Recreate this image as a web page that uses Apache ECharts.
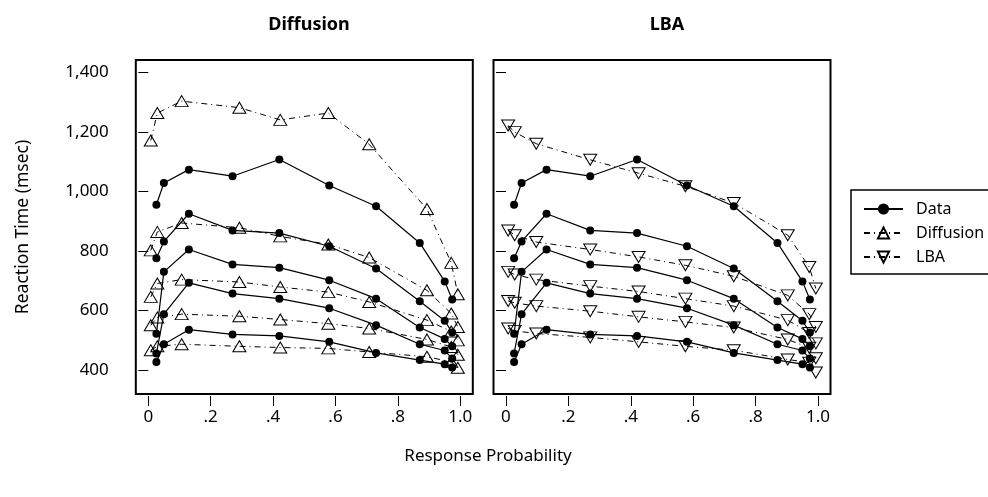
<!DOCTYPE html>
<html>
<head>
<meta charset="utf-8">
<script src="https://cdn.jsdelivr.net/npm/echarts@6/dist/echarts.min.js"></script>
<style>
  html, body { margin: 0; padding: 0; background: #fff; }
  #chart { width: 988px; height: 497px; }
</style>
</head>
<body>
<div id="chart"></div>
<script>
// response probabilities (x) for the observed data and each model
const probData = [0.026, 0.05, 0.13, 0.27, 0.42, 0.58, 0.73, 0.87, 0.95, 0.974];
const probDiff = [0.008, 0.029, 0.107, 0.292, 0.423, 0.577, 0.708, 0.893, 0.971, 0.992];
const probLba = [0.007, 0.028, 0.097, 0.27, 0.425, 0.575, 0.73, 0.903, 0.972, 0.993];

// RT quantiles (.1, .3, .5, .7, .9), msec
const dataQ1 = [427, 487, 536, 520, 515, 495, 458, 434, 420, 409];
const dataQ2 = [456, 588, 693, 657, 640, 608, 551, 487, 466, 439];
const dataQ3 = [522, 730, 805, 755, 744, 702, 640, 543, 505, 480];
const dataQ4 = [776, 832, 925, 869, 860, 816, 741, 631, 566, 526];
const dataQ5 = [955, 1028, 1073, 1051, 1107, 1020, 950, 827, 698, 637];

const diffQ1 = [467, 480, 487, 480, 476, 473, 461, 445, 428, 408];
const diffQ2 = [551, 577, 588, 581, 570, 556, 540, 503, 478, 452];
const diffQ3 = [646, 691, 704, 696, 679, 662, 629, 568, 530, 500];
const diffQ4 = [802, 864, 894, 878, 849, 822, 778, 668, 590, 545];
const diffQ5 = [1171, 1263, 1303, 1281, 1240, 1263, 1158, 941, 760, 655];

const lbaQ1 = [540, 532, 523, 510, 495, 480, 467, 436, 425, 392];
const lbaQ2 = [632, 626, 615, 598, 579, 562, 543, 503, 475, 440];
const lbaQ3 = [730, 721, 704, 682, 664, 640, 615, 568, 525, 490];
const lbaQ4 = [869, 853, 830, 805, 780, 752, 715, 651, 588, 545];
const lbaQ5 = [1221, 1199, 1160, 1106, 1061, 1017, 961, 853, 746, 674];

const xTicks = [0, 0.2, 0.4, 0.6, 0.8, 1.0];
const xTickText = ['0', '.2', '.4', '.6', '.8', '1.0'];
const yTicks = [400, 600, 800, 1000, 1200, 1400];
const yTickText = ['400', '600', '800', '1,000', '1,200', '1,400'];

const panelTitles = ['Diffusion', 'LBA'];

const font = '"Noto Sans", "Open Sans", sans-serif';
const chart = echarts.init(document.getElementById('chart'), null, { renderer: 'canvas' });

const pairs = (xs, ys) => xs.map((x, i) => [x, ys[i]]);

const dataLines = [dataQ1, dataQ2, dataQ3, dataQ4, dataQ5];
const diffLines = [diffQ1, diffQ2, diffQ3, diffQ4, diffQ5];
const lbaLines = [lbaQ1, lbaQ2, lbaQ3, lbaQ4, lbaQ5];

const dashDot = [6, 4, 1, 4];

function dataSeries(gi) {
  return dataLines.map(q => ({
    name: 'Data',
    type: 'line',
    xAxisIndex: gi,
    yAxisIndex: gi,
    data: pairs(probData, q),
    symbol: 'circle',
    symbolSize: 8,
    z: 3,
    itemStyle: { color: '#000' },
    lineStyle: { color: '#000', width: 1.2 },
  }));
}

function modelSeries(gi, name, xs, lines, rotate) {
  return lines.map(q => ({
    name: name,
    type: 'line',
    xAxisIndex: gi,
    yAxisIndex: gi,
    data: pairs(xs, q),
    symbol: 'triangle',
    symbolSize: [13, 11],
    symbolRotate: rotate,
    z: 2,
    itemStyle: { color: 'rgba(0,0,0,0)', borderColor: '#000', borderWidth: 1 },
    lineStyle: { color: '#000', width: 1, type: dashDot },
  }));
}

const gridLefts = [135.8, 493.5];

const option = {
  animation: false,
  backgroundColor: '#fff',
  title: [
    { text: panelTitles[0], left: 304, top: 11, textAlign: 'center',
      textStyle: { fontFamily: font, fontWeight: 'bold', fontSize: 18, color: '#000' } },
    { text: panelTitles[1], left: 662, top: 11, textAlign: 'center',
      textStyle: { fontFamily: font, fontWeight: 'bold', fontSize: 18, color: '#000' } },
    { text: 'Response Probability', left: 483, top: 443, textAlign: 'center',
      textStyle: { fontFamily: font, fontWeight: 'normal', fontSize: 17, color: '#000' } },
  ],
  legend: {
    data: ['Data', 'Diffusion', 'LBA'],
    orient: 'vertical',
    left: 851,
    top: 190,
    padding: [11, 30, 9, 12],
    itemWidth: 39,
    itemHeight: 14,
    itemGap: 8,
    borderColor: '#000',
    borderWidth: 1.5,
    textStyle: { fontFamily: font, fontSize: 16, color: '#000', padding: [0, 0, 0, 8] },
  },
  grid: gridLefts.map(l => ({
    left: l, top: 60, width: 337, height: 334,
    show: true, borderColor: '#000', borderWidth: 2, backgroundColor: 'transparent',
  })),
  xAxis: [0, 1].map(i => ({
    type: 'value',
    gridIndex: i,
    min: -0.04,
    max: 1.04,
    offset: 2,
    axisLine: { show: false },
    axisTick: { show: true, length: 10, customValues: xTicks, lineStyle: { color: '#000', width: 1 } },
    axisLabel: {
      customValues: xTicks,
      margin: 13,
      color: '#000',
      fontFamily: font,
      fontSize: 17,
      formatter: v => xTickText[xTicks.findIndex(t => Math.abs(t - v) < 1e-6)],
    },
    splitLine: { show: false },
  })),
  yAxis: [0, 1].map(i => ({
    type: 'value',
    gridIndex: i,
    min: 320,
    max: 1441,
    offset: 2,
    name: i === 0 ? 'Reaction Time (msec)' : '',
    nameLocation: 'middle',
    nameGap: 102,
    nameTextStyle: { fontFamily: font, fontSize: 17.5, color: '#000' },
    axisLine: { show: false },
    axisTick: { show: true, length: 10, customValues: yTicks, lineStyle: { color: '#000', width: 1 } },
    axisLabel: {
      show: i === 0,
      customValues: yTicks,
      margin: 25,
      color: '#000',
      fontFamily: font,
      fontSize: 17,
      formatter: v => yTickText[yTicks.indexOf(v)],
    },
    splitLine: { show: false },
  })),
  series: [
    ...dataSeries(0),
    ...modelSeries(0, 'Diffusion', probDiff, diffLines, 0),
    ...dataSeries(1),
    ...modelSeries(1, 'LBA', probLba, lbaLines, 180),
  ],
};

chart.setOption(option);
</script>
</body>
</html>
